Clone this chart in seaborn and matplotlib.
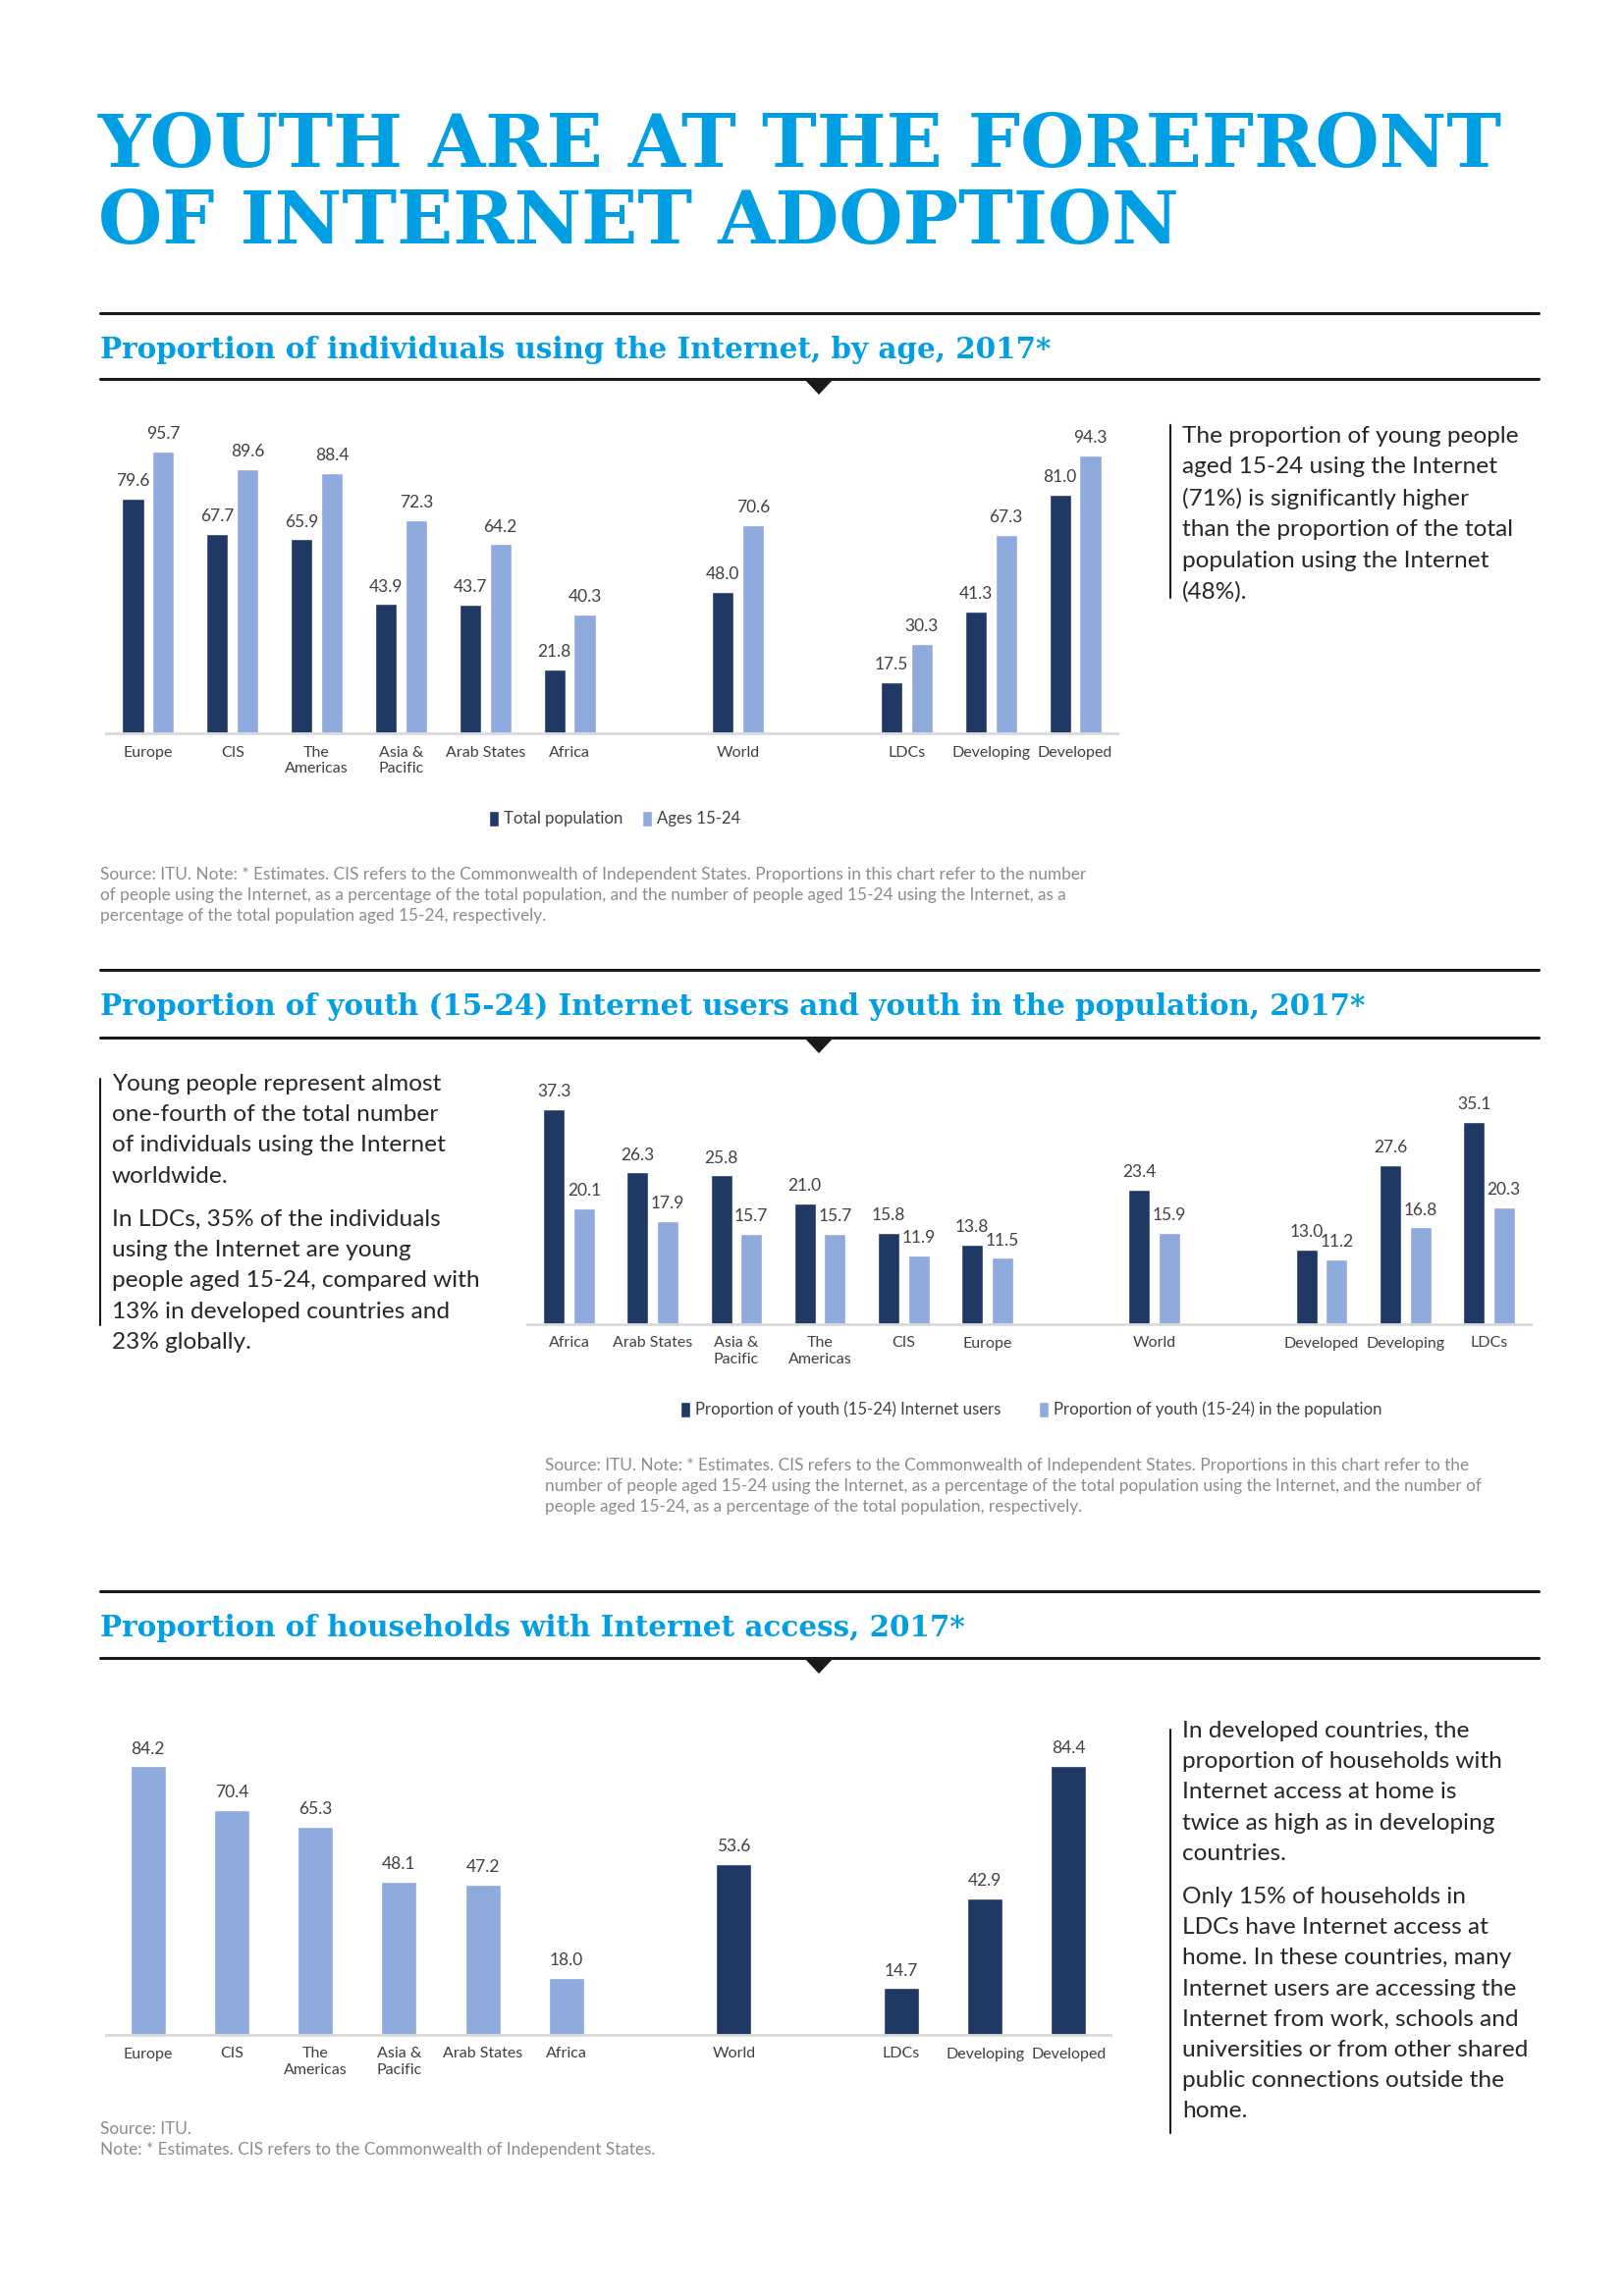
import seaborn as sns
import pandas as pd
import matplotlib.pyplot as plt
from matplotlib.lines import Line2D
from matplotlib.patches import Polygon

NAVY = "#1F3864"
LIGHT = "#8FAADC"
CYAN = "#009FE3"
GREY_TXT = "#8C8C8C"
LABEL_TXT = "#404040"

W, H = 1654, 2339

# --- chart 1: internet use by age
age_regions = ["Europe", "CIS", "The\nAmericas", "Asia &\nPacific", "Arab States", "Africa",
               "World", "LDCs", "Developing", "Developed"]
age_total = [79.6, 67.7, 65.9, 43.9, 43.7, 21.8, 48.0, 17.5, 41.3, 81.0]
age_youth = [95.7, 89.6, 88.4, 72.3, 64.2, 40.3, 70.6, 30.3, 67.3, 94.3]
age_series = ["Total population", "Ages 15-24"]

# --- chart 2: youth share of users vs population
share_regions = ["Africa", "Arab States", "Asia &\nPacific", "The\nAmericas", "CIS", "Europe",
                 "World", "Developed", "Developing", "LDCs"]
share_users = [37.3, 26.3, 25.8, 21.0, 15.8, 13.8, 23.4, 13.0, 27.6, 35.1]
share_pop = [20.1, 17.9, 15.7, 15.7, 11.9, 11.5, 15.9, 11.2, 16.8, 20.3]
share_series = ["Proportion of youth (15-24) Internet users",
                "Proportion of youth (15-24) in the population"]

# --- chart 3: households with access
hh_regions = ["Europe", "CIS", "The\nAmericas", "Asia &\nPacific", "Arab States", "Africa",
              "World", "LDCs", "Developing", "Developed"]
hh_values = [84.2, 70.4, 65.3, 48.1, 47.2, 18.0, 53.6, 14.7, 42.9, 84.4]
hh_group = ["Region"] * 6 + ["Aggregate"] * 4


def with_gaps(cats):
    # blank slots before and after "World"
    return cats[:6] + [" "] + [cats[6]] + ["  "] + cats[7:]


def px(x):
    return x / W


def py(y):
    return 1 - y / H


sns.set_theme(style="white")
plt.rcParams["font.family"] = ["Lato", "DejaVu Sans"]
CHART_FONT = ["Lato", "DejaVu Sans"]
LBL = 12.5
TICK = 11.5
LEG = 12.1

fig = plt.figure(figsize=(W / 100, H / 100), dpi=100)


def style_axis(ax, ymax):
    ax.set_ylim(0, ymax)
    ax.set_xlabel("")
    ax.set_ylabel("")
    ax.set_yticks([])
    for s in ["left", "right", "top"]:
        ax.spines[s].set_visible(False)
    ax.spines["bottom"].set_color("#D9D9D9")
    ax.spines["bottom"].set_linewidth(2)
    ax.tick_params(axis="x", length=0, pad=9, labelcolor=LABEL_TXT)
    for lab in ax.get_xticklabels():
        lab.set_fontfamily(CHART_FONT)
        lab.set_fontsize(TICK)
    for c in ax.containers:
        ax.bar_label(c, fmt="%.1f", padding=7, fontsize=LBL, color=LABEL_TXT,
                     family=CHART_FONT)


def style_legend(ax, cx, cy, colsp):
    sns.move_legend(ax, "center", bbox_to_anchor=(px(cx), py(cy)),
                    bbox_transform=fig.transFigure, ncol=2, title=None, frameon=False,
                    handlelength=0.6, handleheight=1.1, handletextpad=0.3,
                    columnspacing=colsp, prop={"family": CHART_FONT, "size": LEG})
    for t in ax.get_legend().get_texts():
        t.set_color(LABEL_TXT)


# chart 1
df1 = pd.DataFrame({
    "region": age_regions * 2,
    "value": age_total + age_youth,
    "series": [age_series[0]] * len(age_regions) + [age_series[1]] * len(age_regions),
})
ax1 = fig.add_axes([px(108), py(747), px(1138) - px(108), 300 / H])
sns.barplot(data=df1, x="region", y="value", hue="series", order=with_gaps(age_regions),
            hue_order=age_series, palette=[NAVY, LIGHT], saturation=1,
            width=0.72, gap=0.28, errorbar=None, ax=ax1)
style_axis(ax1, 100)
style_legend(ax1, 626, 834, 1.2)

# chart 2
df2 = pd.DataFrame({
    "region": share_regions * 2,
    "value": share_users + share_pop,
    "series": [share_series[0]] * len(share_regions) + [share_series[1]] * len(share_regions),
})
ax2 = fig.add_axes([px(537), py(1349), px(1559) - px(537), 235 / H])
sns.barplot(data=df2, x="region", y="value", hue="series", order=with_gaps(share_regions),
            hue_order=share_series, palette=[NAVY, LIGHT], saturation=1,
            width=0.72, gap=0.28, errorbar=None, ax=ax2)
style_axis(ax2, 40)
style_legend(ax2, 1050, 1436, 2.3)

# chart 3
df3 = pd.DataFrame({"region": hh_regions, "value": hh_values, "group": hh_group})
ax3 = fig.add_axes([px(108), py(2073), px(1131) - px(108), 325 / H])
sns.barplot(data=df3, x="region", y="value", hue="group", order=with_gaps(hh_regions),
            hue_order=["Region", "Aggregate"], palette=[LIGHT, NAVY], saturation=1,
            width=0.42, errorbar=None, legend=False, ax=ax3)
style_axis(ax3, 100)

# --- page furniture
for yb, line in [(170, "YOUTH ARE AT THE FOREFRONT"), (248, "OF INTERNET ADOPTION")]:
    fig.text(px(100), py(yb), line, color=CYAN, fontsize=54, fontweight="bold",
             family="DejaVu Serif", va="baseline")

subtitles = [
    (365, "Proportion of individuals using the Internet, by age, 2017*"),
    (1034, "Proportion of youth (15-24) Internet users and youth in the population, 2017*"),
    (1667, "Proportion of households with Internet access, 2017*"),
]
for yb, txt in subtitles:
    fig.text(px(102), py(yb), txt, color=CYAN, fontsize=21.2, fontweight="bold",
             family="DejaVu Serif", va="baseline")

for y_top, y_bot in [(319, 386), (988, 1057), (1621, 1689)]:
    for yy in (y_top, y_bot):
        fig.add_artist(Line2D([px(102), px(1567)], [py(yy), py(yy)],
                              transform=fig.transFigure, color="#1A1A1A", lw=2.2))
    fig.add_artist(Polygon([[px(819), py(y_bot)], [px(849), py(y_bot)], [px(834), py(y_bot + 16)]],
                           closed=True, transform=fig.transFigure, color="#1A1A1A", lw=0))

# side notes
notes = [
    (1204, 434, "The proportion of young people\naged 15-24 using the Internet\n(71%) is significantly higher\n"
                "than the proportion of the total\npopulation using the Internet\n(48%)."),
    (114, 1094, "Young people represent almost\none-fourth of the total number\n"
                "of individuals using the Internet\nworldwide."),
    (114, 1232, "In LDCs, 35% of the individuals\nusing the Internet are young\n"
                "people aged 15-24, compared with\n13% in developed countries and\n23% globally."),
    (1204, 1753, "In developed countries, the\nproportion of households with\nInternet access at home is\n"
                 "twice as high as in developing\ncountries."),
    (1204, 1922, "Only 15% of households in\nLDCs have Internet access at\nhome. In these countries, many\n"
                 "Internet users are accessing the\nInternet from work, schools and\n"
                 "universities or from other shared\npublic connections outside the\nhome."),
]
for x, y, txt in notes:
    fig.text(px(x), py(y), txt, fontsize=17.6, color="#262626",
             va="top", ha="left", linespacing=1.6)

for x, y0, y1 in [(1192, 433, 609), (102, 1099, 1350), (1192, 1762, 2173)]:
    fig.add_artist(Line2D([px(x), px(x)], [py(y0), py(y1)], transform=fig.transFigure,
                          color="#1A1A1A", lw=1.5))

sources = [
    (102, 883, "Source: ITU. Note: * Estimates. CIS refers to the Commonwealth of Independent States. "
               "Proportions in this chart refer to the number\nof people using the Internet, as a percentage "
               "of the total population, and the number of people aged 15-24 using the Internet, as a\n"
               "percentage of the total population aged 15-24, respectively."),
    (555, 1485, "Source: ITU. Note: * Estimates. CIS refers to the Commonwealth of Independent States. "
                "Proportions in this chart refer to the\nnumber of people aged 15-24 using the Internet, as a "
                "percentage of the total population using the Internet, and the number of\npeople aged 15-24, "
                "as a percentage of the total population, respectively."),
    (102, 2161, "Source: ITU.\nNote: * Estimates. CIS refers to the Commonwealth of Independent States."),
]
for x, y, txt in sources:
    fig.text(px(x), py(y), txt, fontsize=12.4, color=GREY_TXT,
             va="top", ha="left", linespacing=1.4)

fig.savefig("out.png", dpi=100, facecolor="white")
